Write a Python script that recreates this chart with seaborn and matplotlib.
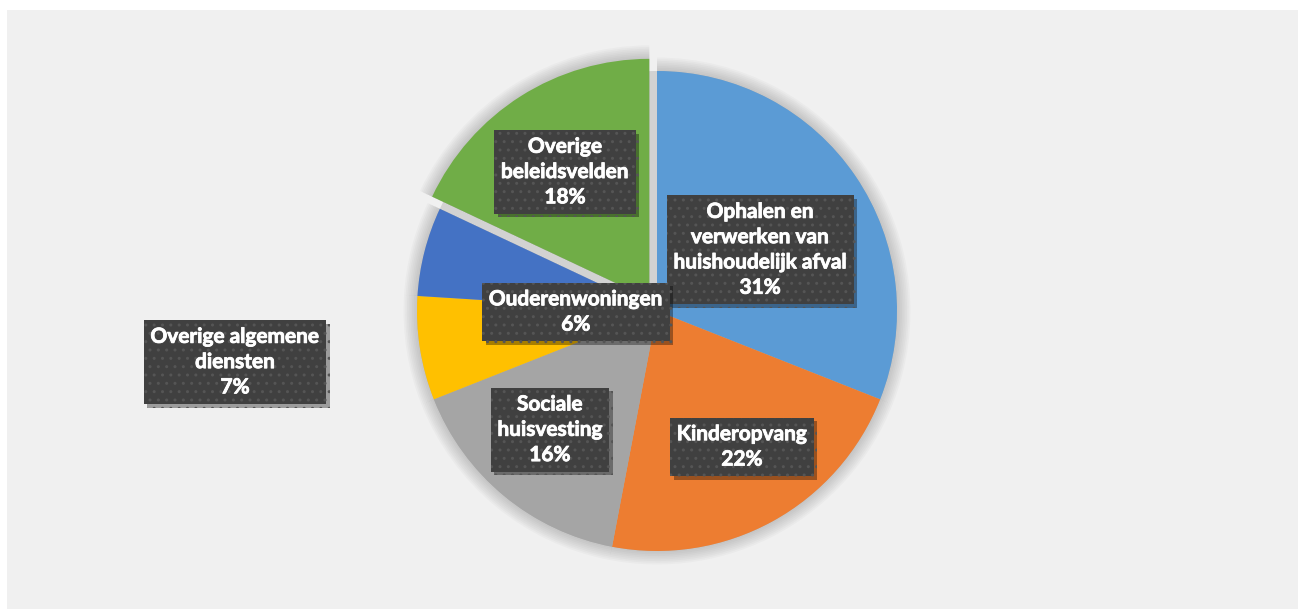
import matplotlib
matplotlib.use("Agg")
import matplotlib.pyplot as plt
import matplotlib.patheffects as pe
from matplotlib.patches import Rectangle, Circle
import seaborn as sns

categories = ["Ophalen en\nverwerken van\nhuishoudelijk afval", "Kinderopvang",
              "Sociale\nhuisvesting", "Overige algemene\ndiensten",
              "Ouderenwoningen", "Overige\nbeleidsvelden"]
values = [31, 22, 16, 7, 6, 18]
colors = ["#5B9BD5", "#ED7D31", "#A5A5A5", "#FFC000", "#4472C4", "#70AD47"]
explode = [0, 0, 0, 0, 0, 0.06]
# label centres (in pie radius units)
label_pos = [(0.43, 0.255), (0.354, -0.566), (-0.446, -0.495),
             (-1.758, -0.213), (-0.338, -0.004), (-0.383, 0.579)]

sns.set_theme(style="white")
plt.rcParams['font.family'] = ['Lato', 'DejaVu Sans']

W, H = 1298, 609
fig = plt.figure(figsize=(W / 100, H / 100), dpi=100, facecolor="white")
ax = fig.add_axes([0, 0, 1, 1])
cx, cy, r = 657, 311, 240
ax.axis("off")

# background panel
ax.add_patch(Rectangle((7 / W, 0), 1, (H - 10) / H, transform=ax.transAxes,
                       facecolor="#F0F0F0", edgecolor="none", zorder=-10))

# soft shadow
for k in range(8):
    rad = 1.0 + 0.007 * (k + 1)
    ax.pie(values, radius=rad, colors=["#808080"] * len(values), explode=explode,
           startangle=90, counterclock=False,
           wedgeprops=dict(alpha=0.05, linewidth=0))
ax.add_patch(Circle((0, 0), 1.0, facecolor="#D2D2D2", edgecolor="none", zorder=0.5))

wedges, _ = ax.pie(values, radius=1.0, colors=colors, explode=explode, startangle=90,
                   counterclock=False, wedgeprops=dict(linewidth=0))
for w in wedges:
    w.set_zorder(1)

for lab, v, (x, y) in zip(categories, values, label_pos):
    t = ax.text(x, y, f"{lab}\n{v}%", ha="center", va="center", color="white",
                fontsize=15, fontweight="bold", linespacing=1.33, zorder=10,
                bbox=dict(boxstyle="square,pad=0.32", facecolor="#404040",
                          edgecolor="#555555", linewidth=0, hatch=".."))
    t.set_path_effects([pe.withStroke(linewidth=0.6, foreground="white")])
    t.get_bbox_patch().set_path_effects([
        pe.SimplePatchShadow(offset=(2.5, -2.5), shadow_rgbFace="#000000", alpha=0.35),
        pe.Normal()])

ax.set_aspect("auto")
ax.set_xlim(-cx / r, (W - cx) / r)
ax.set_ylim((cy - H) / r, cy / r)
ax.axis("off")
fig.savefig("out.png", dpi=100, facecolor="white")
